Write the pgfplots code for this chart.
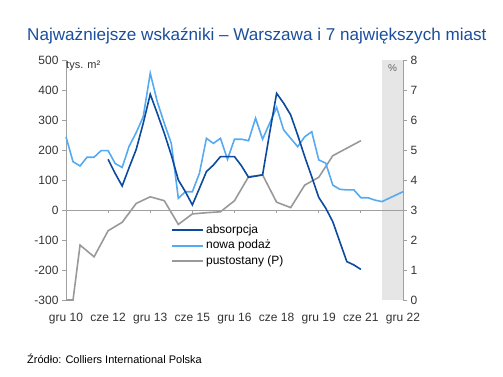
\documentclass[border=0pt]{standalone}
\usepackage{pgfplots}
\pgfplotsset{compat=1.18}
\usepackage{fontspec}
\setmainfont{Liberation Sans}
\definecolor{dblue}{HTML}{0B4A9E}
\definecolor{lblue}{HTML}{55AAF2}
\definecolor{lgrey}{HTML}{999999}
\definecolor{ttl}{HTML}{1B4F9C}
\definecolor{axg}{HTML}{A0A0A0}
\definecolor{shadecol}{HTML}{E6E6E6}
\begin{document}
\begin{tikzpicture}[x=1pt,y=1pt]
\path[use as bounding box] (0,0) rectangle (503,376);
\node[anchor=base west, text=ttl, inner sep=0pt, font=\fontsize{17.1}{20}\selectfont] at (27,336) {Najważniejsze wskaźniki – Warszawa i 7 największych miast};
\node[anchor=base west, inner sep=0pt, font=\fontsize{11}{13}\selectfont] at (27,13) {Źródło: Colliers International Polska};

% right axis (vacancy, %)
\begin{axis}[at={(66pt,76pt)}, anchor=south west, scale only axis, width=337pt, height=240pt,
  xmin=0, xmax=48, ymin=0, ymax=8,
  axis x line=none, axis y line*=right,
  y axis line style={axg, line width=0.8pt},
  ytick={0,1,2,3,4,5,6,7,8}, yticklabels={0,1,2,3,4,5,6,7,8},
  tick style={axg, line width=0.8pt}, major tick length=4pt, tick align=outside,
  yticklabel style={font=\fontsize{12}{14}\selectfont, text=black!80},
  clip=false]
\fill[shadecol] (axis cs:45,0) rectangle (axis cs:48,8);
\node[text=black!60, font=\fontsize{10}{12}\selectfont] at (axis cs:46.5,7.73) {\%};
\addplot[lgrey, line width=1.6pt] coordinates {
(0,0) (1,0) (2,1.83) (4,1.44) (6,2.31) (8,2.59) (10,3.22) (12,3.44) (14,3.31)
(16,2.52) (18,2.87) (20,2.91) (22,2.94) (24,3.31) (26,4.11) (28,4.17) (30,3.26)
(32,3.08) (34,3.83) (36,4.09) (38,4.81) (40,5.06) (42,5.31)};
\end{axis}

% left axis (thousand m2)
\begin{axis}[at={(66pt,76pt)}, anchor=south west, scale only axis, width=337pt, height=240pt,
  xmin=0, xmax=48, ymin=-300, ymax=500,
  axis y line*=left, axis x line*=bottom,
  x axis line style={draw=none},
  y axis line style={axg, line width=0.8pt},
  xtick={0,6,12,18,24,30,36,42,48},
  xticklabels={gru 10,cze 12,gru 13,cze 15,gru 16,cze 18,gru 19,cze 21,gru 22},
  xtick style={draw=none},
  ytick={-300,-200,-100,0,100,200,300,400,500},
  yticklabels={-300,-200,-100,0,100,200,300,400,500},
  ytick style={axg, line width=0.8pt}, major tick length=4pt, tick align=outside,
  ticklabel style={font=\fontsize{12}{14}\selectfont, text=black!80},
  xticklabel style={yshift=-6pt},
  legend style={at={(axis cs:15,-45)}, anchor=north west, draw=none, fill=none,
    font=\fontsize{12}{14}\selectfont, row sep=2.5pt, inner sep=0pt,
    nodes={inner ysep=1pt, text height=8.5pt, text depth=2.5pt}},
  legend cell align=left,
  legend image code/.code={\draw[#1] (0pt,0pt) -- (31pt,0pt);},
  clip=false]
\addlegendimage{dblue, line width=1.6pt}
\addlegendentry{absorpcja}
\addlegendimage{lblue, line width=1.6pt}
\addlegendentry{nowa podaż}
\addlegendimage{lgrey, line width=1.6pt}
\addlegendentry{pustostany (P)}
\draw[axg, line width=0.8pt] (axis cs:0,0) -- (axis cs:48,0);
\draw[axg, line width=0.8pt] (axis cs:6,0) -- ([yshift=-3pt]axis cs:6,0);
\draw[axg, line width=0.8pt] (axis cs:12,0) -- ([yshift=-3pt]axis cs:12,0);
\draw[axg, line width=0.8pt] (axis cs:18,0) -- ([yshift=-3pt]axis cs:18,0);
\draw[axg, line width=0.8pt] (axis cs:24,0) -- ([yshift=-3pt]axis cs:24,0);
\draw[axg, line width=0.8pt] (axis cs:30,0) -- ([yshift=-3pt]axis cs:30,0);
\draw[axg, line width=0.8pt] (axis cs:36,0) -- ([yshift=-3pt]axis cs:36,0);
\draw[axg, line width=0.8pt] (axis cs:42,0) -- ([yshift=-3pt]axis cs:42,0);
\draw[axg, line width=0.8pt] (axis cs:48,0) -- ([yshift=-3pt]axis cs:48,0);
\node[anchor=west, inner sep=0pt, text=black!80, font=\fontsize{11}{13}\selectfont] at (axis cs:0,480) {tys. m²};
\addplot[lblue, line width=1.6pt, forget plot] coordinates {
(0,244) (1,161) (2,147) (3,176) (4,176) (5,198) (6,198) (7,155) (8,142) (9,213)
(10,258) (11,311) (12,456) (13,361) (14,289) (15,222) (16,39) (17,61) (18,61)
(19,122) (20,239) (21,222) (22,239) (23,169) (24,236) (25,236) (26,231) (27,306)
(28,236) (29,289) (30,342) (31,267) (32,239) (33,211) (34,244) (35,261) (36,167)
(37,156) (38,83) (39,69) (40,67) (41,67) (42,41) (43,41) (44,33) (45,28) (46,39)
(47,50) (48,61)};
\addplot[dblue, line width=1.6pt, forget plot] coordinates {
(6,169) (7,122) (8,80) (9,142) (10,202) (11,289) (12,386) (13,322) (14,256)
(15,183) (16,100) (17,61) (18,17) (19,72) (20,128) (21,150) (22,178) (23,178)
(24,178) (25,147) (26,109) (27,113) (28,117) (29,256) (30,389) (31,356) (32,317)
(33,250) (34,178) (35,111) (36,42) (37,6) (38,-39) (39,-106) (40,-172) (41,-183)
(42,-198)};
\end{axis}
\end{tikzpicture}
\end{document}
